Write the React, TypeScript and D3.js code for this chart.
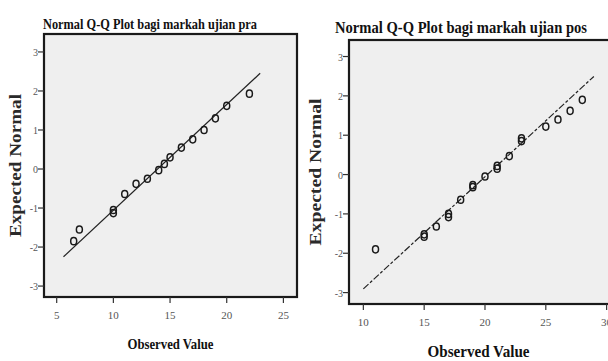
import React from "react";
import * as d3 from "d3";

// pra (pre-test) scores
const praObserved = [6.5, 7, 10, 10, 11, 12, 13, 14, 14.5, 15, 16, 17, 18, 19, 20, 22];
const praExpected = [-1.85, -1.55, -1.13, -1.05, -0.64, -0.38, -0.25, -0.03, 0.13, 0.3, 0.55, 0.76, 1.0, 1.3, 1.62, 1.93];
const praLine = { mean: 13.9, sd: 3.69, from: 5.6, to: 22.95 };
const praXTicks = [5, 10, 15, 20, 25];

// pos (post-test) scores
const posObserved = [11, 15, 15, 16, 17, 17, 18, 19, 19, 20, 21, 21, 22, 23, 23, 25, 26, 27, 28];
const posExpected = [-1.9, -1.58, -1.52, -1.32, -1.08, -1.0, -0.64, -0.32, -0.27, -0.05, 0.15, 0.22, 0.47, 0.85, 0.92, 1.22, 1.4, 1.62, 1.9];
const posLine = { mean: 20.2, sd: 3.51, from: 10, to: 28.95 };
const posXTicks = [10, 15, 20, 25, 30];

const yTicks = [-3, -2, -1, 0, 1, 2, 3];

const serif = "'Liberation Serif', 'DejaVu Serif', serif";

type PanelProps = {
  title: string;
  observed: number[];
  expected: number[];
  line: { mean: number; sd: number; from: number; to: number };
  xTicks: number[];
  xDomain: [number, number];
  yDomain: [number, number];
  box: { x0: number; x1: number; y0: number; y1: number };
  titleY: number;
  titleX0: number;
  titleW: number;
  titleSize: number;
  xLabelY: number;
  xTitleY: number;
  xTitleW: number;
  yTitleX: number;
  yTitleW: number;
  dashed?: boolean;
};

const Panel = (p: PanelProps) => {
  const x = d3.scaleLinear().domain(p.xDomain).range([p.box.x0, p.box.x1]);
  const y = d3.scaleLinear().domain(p.yDomain).range([p.box.y1, p.box.y0]);
  const lineGen = d3
    .line<number>()
    .x((d) => x(d))
    .y((d) => y((d - p.line.mean) / p.line.sd));
  const cx = (p.box.x0 + Math.min(p.box.x1, 608)) / 2;
  const midY = (p.box.y0 + p.box.y1) / 2;

  return (
    <g>
      <text
        x={p.titleX0}
        y={p.titleY}
        fontFamily={serif}
        fontWeight="bold"
        fontSize={p.titleSize}
        textLength={p.titleW}
        lengthAdjust="spacingAndGlyphs"
        fill="#111"
      >
        {p.title}
      </text>
      <rect
        x={p.box.x0}
        y={p.box.y0}
        width={p.box.x1 - p.box.x0}
        height={p.box.y1 - p.box.y0}
        fill="#efefef"
        stroke="#1a1a1a"
        strokeWidth={2.2}
      />
      {/* x axis */}
      {p.xTicks.map((t) => (
        <g key={"x" + t}>
          <line x1={x(t)} x2={x(t)} y1={p.box.y1} y2={p.box.y1 + 6} stroke="#333" strokeWidth={1.2} />
          <text
            x={x(t)}
            y={p.xLabelY}
            textAnchor="middle"
            fontFamily={serif}
            fontSize={11}
            fill="#555"
          >
            {t}
          </text>
        </g>
      ))}
      {/* y axis */}
      {yTicks.map((t) => (
        <g key={"y" + t}>
          <line x1={p.box.x0 - 6} x2={p.box.x0} y1={y(t)} y2={y(t)} stroke="#333" strokeWidth={1.2} />
          <text
            x={p.box.x0 - 6}
            y={y(t) + 4}
            textAnchor="end"
            fontFamily={serif}
            fontSize={10}
            fill="#555"
          >
            {t}
          </text>
        </g>
      ))}
      <text
        x={cx}
        y={p.xTitleY}
        textAnchor="middle"
        fontFamily={serif}
        fontWeight="bold"
        fontSize={p.titleSize}
        textLength={p.xTitleW}
        lengthAdjust="spacingAndGlyphs"
        fill="#111"
      >
        Observed Value
      </text>
      <text
        transform={`translate(${p.yTitleX},${midY}) rotate(-90)`}
        textAnchor="middle"
        fontFamily={serif}
        fontWeight="bold"
        fontSize={16}
        textLength={p.yTitleW}
        lengthAdjust="spacingAndGlyphs"
        fill="#2a2a2a"
      >
        Expected Normal
      </text>
      {/* reference line */}
      <path
        d={lineGen([p.line.from, p.line.to]) || ""}
        fill="none"
        stroke="#222"
        strokeWidth={1.2}
        strokeDasharray={p.dashed ? "7,2,3,2" : undefined}
      />
      {p.observed.map((o, i) => (
        <ellipse
          key={"p" + i}
          cx={x(o)}
          cy={y(p.expected[i])}
          rx={3}
          ry={3.6}
          fill="none"
          stroke="#1a1a1a"
          strokeWidth={1.5}
        />
      ))}
    </g>
  );
};

export default function App() {
  return (
    <div style={{ position: "absolute", left: 0, top: 0 }}>
      <svg width={608} height={361} style={{ display: "block", background: "#fff" }}>
        <Panel
          title="Normal Q-Q Plot bagi markah ujian pra"
          observed={praObserved}
          expected={praExpected}
          line={praLine}
          xTicks={praXTicks}
          xDomain={[3.88, 26.2]}
          yDomain={[-3.28, 3.46]}
          box={{ x0: 44, x1: 297, y0: 34, y1: 297 }}
          titleX0={43}
          titleY={29}
          titleW={214}
          titleSize={15}
          xLabelY={319}
          xTitleY={349}
          xTitleW={86}
          yTitleX={21}
          yTitleW={143}
        />
        <Panel
          title="Normal Q-Q Plot bagi markah ujian pos"
          observed={posObserved}
          expected={posExpected}
          line={posLine}
          xTicks={posXTicks}
          xDomain={[8.82, 31.1]}
          yDomain={[-3.29, 3.42]}
          box={{ x0: 349, x1: 620, y0: 40, y1: 304 }}
          titleX0={335}
          titleY={33}
          titleW={252}
          titleSize={17}
          xLabelY={326}
          xTitleY={357}
          xTitleW={102}
          yTitleX={321}
          yTitleW={147}
          dashed
        />
      </svg>
    </div>
  );
}
